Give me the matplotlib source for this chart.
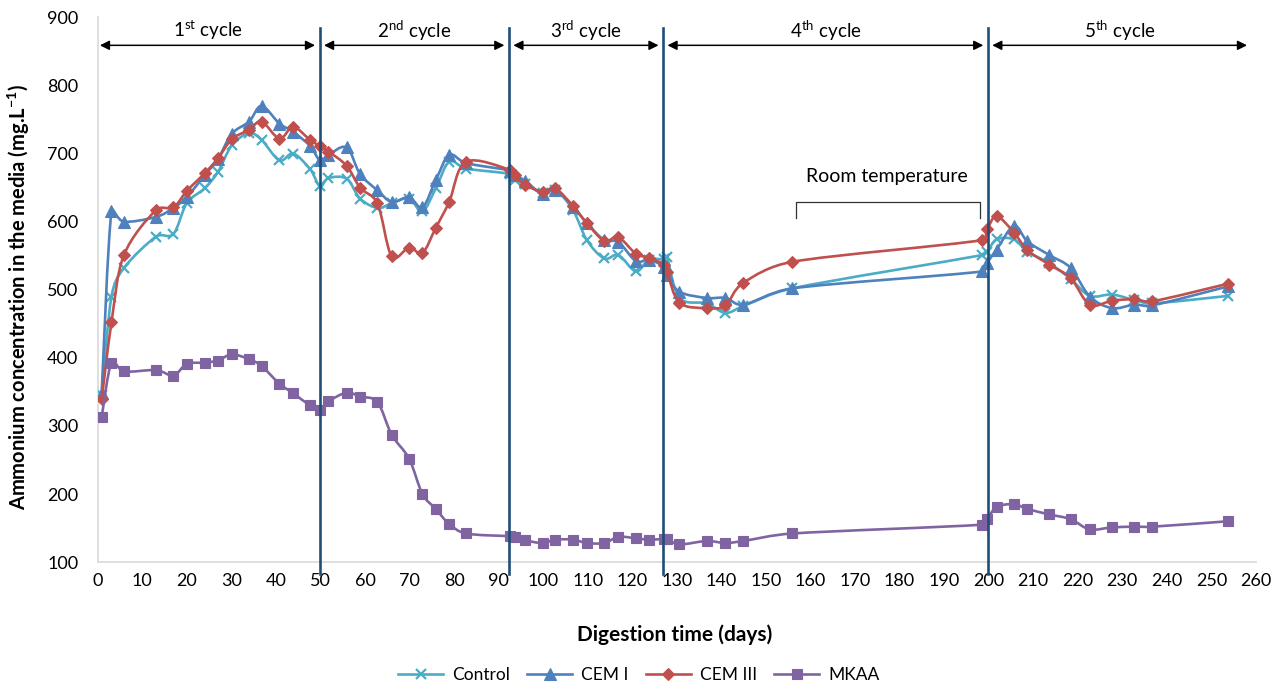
import numpy as np
import matplotlib
matplotlib.use("Agg")
import matplotlib.pyplot as plt
from matplotlib.path import Path
from matplotlib.patches import PathPatch
from matplotlib.lines import Line2D

plt.rcParams['font.family'] = ['Lato', 'DejaVu Sans']
plt.rcParams['mathtext.fontset'] = 'custom'
plt.rcParams['mathtext.rm'] = 'Lato'
plt.rcParams['mathtext.bf'] = 'Lato:bold'

# ---------------- data ----------------
days = [0.9, 3.1, 5.9, 13.1, 17.0, 20.0, 24.0, 27.0, 30.1, 34.0, 36.8, 40.8, 43.9, 47.7, 49.9,
        51.8, 55.9, 58.9, 62.8, 66.0, 69.9, 72.9, 75.9, 78.9, 82.7, 92.6, 93.7, 96.0, 99.9,
        102.7, 106.7, 109.8, 113.7, 116.9, 120.8, 123.7, 127.1, 127.8, 130.6, 136.7, 140.9,
        144.9, 155.9, 198.6, 199.7, 201.8, 205.7, 208.7, 213.6, 218.4, 222.7, 227.7, 232.6,
        236.7, 253.8]

control = [345, 490, 532, 578, 582, 627, 649, 673, 712, 730, 720, 690, 700, 677, 652,
           664, 663, 634, 620, 627, 634, 615, 649, 688, 678, 670, 661, 655, 642,
           647, 617, 573, 546, 551, 527, 544, 545, 548, 488, 480, 466,
           476, 502, 551, 556, 574, 574, 556, 539, 516, 491, 493, 485,
           480, 491]

cem1 = [349, 615, 600, 607, 620, 636, 668, 692, 729, 747, 770, 744, 732, 711, 690,
        698, 709, 670, 646, 629, 636, 621, 661, 698, 686, 675, 668, 660, 640,
        647, 622, 598, 573, 570, 542, 544, 534, 522, 497, 488, 488,
        478, 502, 527, 540, 559, 594, 571, 551, 532, 490, 473, 478,
        477, 505]

cem3 = [339, 452, 551, 617, 621, 645, 671, 693, 721, 735, 747, 722, 739, 720, 711,
        703, 682, 650, 627, 549, 562, 554, 591, 629, 688, 676, 668, 654, 644,
        649, 623, 598, 572, 577, 553, 547, 537, 526, 481, 473, 477,
        510, 541, 573, 589, 608, 584, 558, 537, 517, 478, 484, 486,
        483, 509]

mkaa = [313, 393, 380, 382, 374, 391, 393, 396, 405, 398, 388, 362, 348, 330, 324,
        336, 349, 343, 335, 287, 252, 200, 178, 156, 142, 138, 137, 132, 128,
        133, 133, 128, 128, 137, 135, 133, 134, 134, 126, 131, 128,
        131, 142, 155, 163, 181, 185, 178, 170, 163, 148, 151, 152,
        152, 160]

series_names = ["Control", "CEM I", "CEM III", "MKAA"]
cycle_bounds = [49.8, 92.3, 126.9, 199.8]
cycle_labels = ["1$^{\\mathrm{st}}$ cycle", "2$^{\\mathrm{nd}}$ cycle", "3$^{\\mathrm{rd}}$ cycle",
                "4$^{\\mathrm{th}}$ cycle", "5$^{\\mathrm{th}}$ cycle"]
x_ticks = list(range(0, 261, 10))
y_ticks = list(range(100, 901, 100))

colors = ["#4BACC6", "#4F81BD", "#C0504D", "#8064A2"]
markers = ["x", "^", "D", "s"]
msizes = [7, 8, 6.5, 7.5]

XS, YS = 4.447, 0.6825  # approx. pixels per data unit, used only for curve smoothing


def smooth_path(x, y):
    """Excel-like smoothed line: Catmull-Rom Bezier with clamped handles."""
    P = np.column_stack([np.asarray(x, float) * XS, np.asarray(y, float) * YS])
    n = len(P)
    T = np.zeros_like(P)
    for i in range(n):
        a = P[max(i - 1, 0)]
        b = P[min(i + 1, n - 1)]
        T[i] = (b - a) / 6.0
    verts = [P[0]]
    codes = [Path.MOVETO]
    for i in range(n - 1):
        seg = np.linalg.norm(P[i + 1] - P[i])
        lim = 0.45 * seg
        t1 = T[i].copy()
        t2 = T[i + 1].copy()
        for t in (t1, t2):
            nrm = np.linalg.norm(t)
            if nrm > lim and nrm > 0:
                t *= lim / nrm
        verts += [P[i] + t1, P[i + 1] - t2, P[i + 1]]
        codes += [Path.CURVE4] * 3
    V = np.array(verts)
    V[:, 0] /= XS
    V[:, 1] /= YS
    return Path(V, codes)


fig = plt.figure(figsize=(12.85, 6.88), dpi=100)
ax = fig.add_axes([0.0760, 0.1830, 0.9014, 0.7917])
ax.set_xlim(0, 260)
ax.set_ylim(100, 900)

handles = []
for i, (name, vals) in enumerate(zip(series_names, [control, cem1, cem3, mkaa])):
    p = smooth_path(days, vals)
    ax.add_patch(PathPatch(p, facecolor="none", edgecolor=colors[i], lw=1.9, zorder=3 + i))
    mew = 1.6 if markers[i] == "x" else 0.8
    ax.plot(days, vals, marker=markers[i], markersize=msizes[i], color=colors[i],
            linestyle="none", markeredgewidth=mew, markeredgecolor=colors[i], zorder=3 + i)
    handles.append(Line2D([], [], lw=1.9, marker=markers[i], markersize=msizes[i],
                          color=colors[i], markeredgewidth=mew))

# cycle boundary lines
for b in cycle_bounds:
    ax.plot([b, b], [82, 884], color="#1F4E79", lw=1.9, clip_on=False, zorder=10)

# cycle arrows and labels
starts = [0.5] + [b + 1.0 for b in cycle_bounds]
ends = [b - 1.0 for b in cycle_bounds] + [258.0]
for s, e, lab in zip(starts, ends, cycle_labels):
    ax.annotate("", xy=(e, 859), xytext=(s, 859),
                arrowprops=dict(arrowstyle="<|-|>", color="black", lw=1.1,
                                mutation_scale=14, shrinkA=0, shrinkB=0))
    ax.text((s + e) / 2, 881, lab, ha="center", va="center", fontsize=13.5)

# room temperature bracket
ax.plot([156.8, 156.8, 198.0, 198.0], [606, 629, 629, 606], color="#333333", lw=0.9)
ax.text(177.2, 667, "Room temperature", ha="center", va="center", fontsize=14)

ax.set_xticks(x_ticks)
ax.set_yticks(y_ticks)
ax.tick_params(axis="both", length=0, labelsize=13)
ax.tick_params(axis="y", pad=14)
ax.tick_params(axis="x", pad=8)
for side in ["top", "right"]:
    ax.spines[side].set_visible(False)
for side in ["left", "bottom"]:
    ax.spines[side].set_color("#D9D9D9")
    ax.spines[side].set_linewidth(1.2)

fig.text(0.525, 0.077, "Digestion time (days)", ha="center", va="center",
         fontsize=15, fontweight="bold")
fig.text(0.015, 0.568, "Ammonium concentration in the media (mg.L$^{\\mathbf{-1}}$)",
         ha="center", va="center", rotation=90, fontsize=14.5, fontweight="bold")

fig.legend(handles, series_names, loc="center", bbox_to_anchor=(0.497, 0.019), ncol=4,
           frameon=False, fontsize=12.5, handlelength=2.6, columnspacing=1.0,
           handletextpad=0.5)

fig.savefig("out.png", dpi=100)
